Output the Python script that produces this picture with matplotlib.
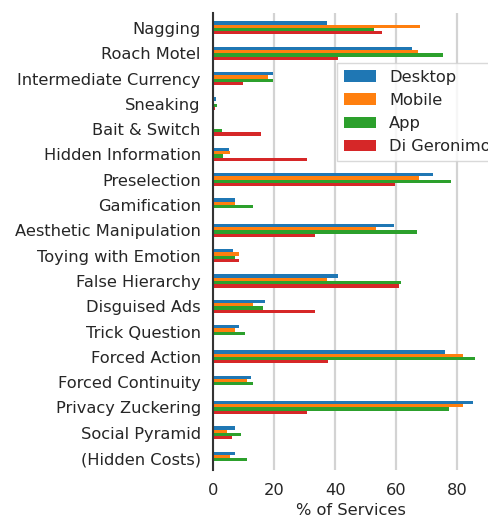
import numpy as np
import matplotlib
matplotlib.use('Agg')
import matplotlib.pyplot as plt

# dark pattern categories, top to bottom
patterns = ['Nagging', 'Roach Motel', 'Intermediate Currency', 'Sneaking',
            'Bait & Switch', 'Hidden Information', 'Preselection',
            'Gamification', 'Aesthetic Manipulation', 'Toying with Emotion',
            'False Hierarchy', 'Disguised Ads', 'Trick Question',
            'Forced Action', 'Forced Continuity', 'Privacy Zuckering',
            'Social Pyramid', '(Hidden Costs)']

# % of services per source
desktop = [37.2, 65.1, 19.6, 1.0, 0.0, 5.4, 72.0, 7.3, 59.2, 6.7,
           41.0, 17.2, 8.7, 76.0, 12.6, 85.1, 7.4, 7.4]
mobile = [67.7, 67.0, 18.0, 0.5, 0.0, 5.7, 67.5, 7.3, 53.3, 8.7,
          37.2, 13.3, 7.3, 81.8, 11.3, 81.8, 4.8, 5.7]
app = [52.7, 75.3, 19.6, 1.5, 2.9, 3.5, 77.8, 13.3, 66.8, 7.3,
       61.7, 16.5, 10.6, 85.6, 13.3, 77.3, 9.4, 11.3]
di_geronimo = [55.4, 41.0, 10.0, 0.8, 15.8, 30.7, 59.5, 0.0, 33.3, 8.7,
               60.9, 33.3, 0.0, 37.8, 0.0, 30.7, 6.2, 0.0]

series = [('Desktop', desktop, '#1f77b4'),
          ('Mobile', mobile, '#ff7f0e'),
          ('App', app, '#2ca02c'),
          ('Di Geronimo', di_geronimo, '#d62728')]

fs = 11.7
fig = plt.figure(figsize=(4.89, 5.17), dpi=100)
ax = fig.add_axes([0.435, 0.0909, 0.565, 0.884])

y = np.arange(len(patterns))
h = 0.13
for i, (name, vals, col) in enumerate(series):
    ax.barh(y + (i - 1.5) * h, vals, height=h, color=col, label=name,
            zorder=3)

ax.set_ylim(17.47, -0.59)
ax.set_xlim(0, 90.3)
ax.set_yticks(y)
ax.set_yticklabels(patterns, fontsize=fs, color='#262626')
ax.set_xticks([0, 20, 40, 60, 80])
ax.set_xticklabels(['0', '20', '40', '60', '80'], fontsize=fs,
                   color='#262626')
ax.tick_params(axis='y', length=0, pad=8.6)
ax.tick_params(axis='x', length=0, pad=9)
ax.set_xlabel('% of Services', fontsize=fs, color='#262626', labelpad=4)

ax.grid(axis='x', color='#d3d3d3', linewidth=1.6, zorder=0)
ax.grid(axis='y', visible=False)
for s in ['top', 'right', 'bottom']:
    ax.spines[s].set_visible(False)
ax.spines['left'].set_color('#333333')
ax.spines['left'].set_linewidth(1.5)
ax.spines['left'].set_zorder(4)

leg = ax.legend(loc='upper left', bbox_to_anchor=(0.45, 0.89),
                fontsize=fs, frameon=True, fancybox=False,
                borderaxespad=0)
leg.get_frame().set_edgecolor('#d0d0d0')
for t in leg.get_texts():
    t.set_color('#262626')

fig.savefig('out.png', dpi=100)
